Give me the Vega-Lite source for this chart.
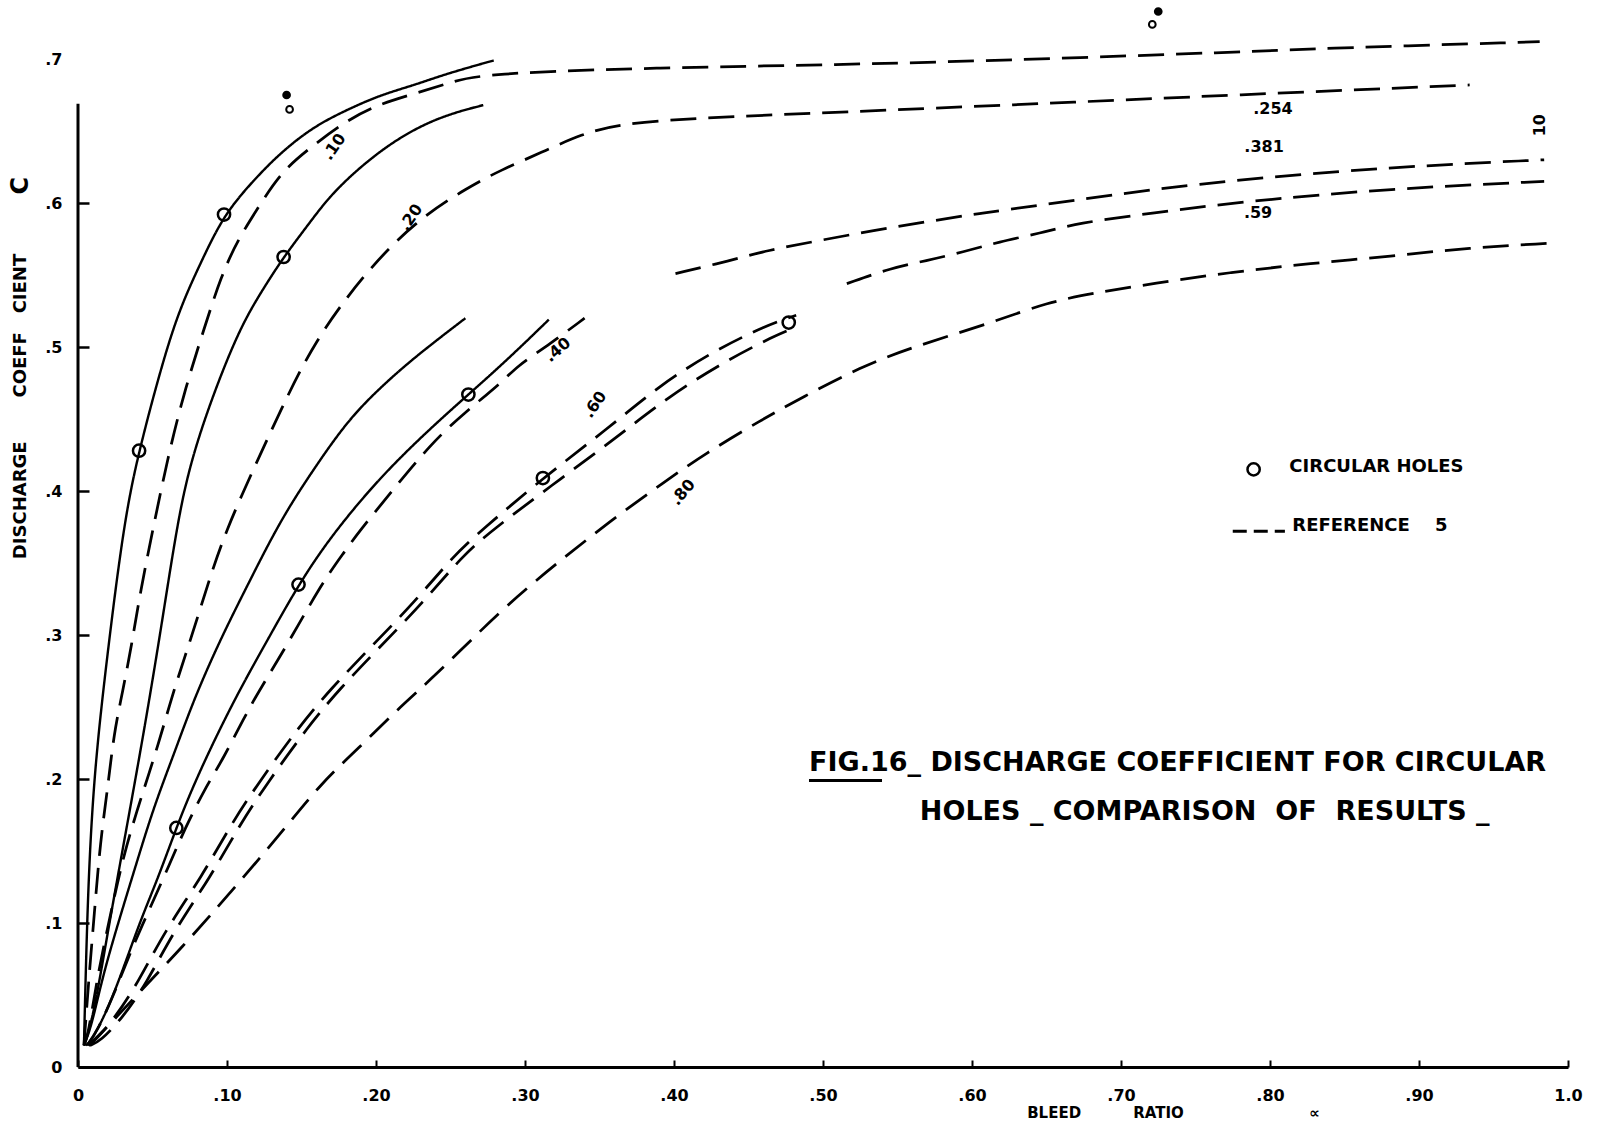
{
  "$schema": "https://vega.github.io/schema/vega-lite/v6.json",
  "width": 1490,
  "height": 1008,
  "autosize": {"type": "none"},
  "padding": {"left": 78, "top": 59, "right": 42, "bottom": 64},
  "background": "white",
  "config": {"view": {"stroke": null}, "font": "DejaVu Sans"},
  "datasets": {
    "curves": [
      {"c":"S1","s":"solid","x":0.004,"y":0.015},{"c":"S1","s":"solid","x":0.005,"y":0.058},{"c":"S1","s":"solid","x":0.007,"y":0.132},{"c":"S1","s":"solid","x":0.011,"y":0.206},{"c":"S1","s":"solid","x":0.019,"y":0.281},{"c":"S1","s":"solid","x":0.031,"y":0.380},{"c":"S1","s":"solid","x":0.041,"y":0.428},{"c":"S1","s":"solid","x":0.054,"y":0.479},{"c":"S1","s":"solid","x":0.067,"y":0.524},{"c":"S1","s":"solid","x":0.083,"y":0.560},{"c":"S1","s":"solid","x":0.098,"y":0.592},{"c":"S1","s":"solid","x":0.118,"y":0.616},{"c":"S1","s":"solid","x":0.136,"y":0.635},{"c":"S1","s":"solid","x":0.158,"y":0.653},{"c":"S1","s":"solid","x":0.181,"y":0.665},{"c":"S1","s":"solid","x":0.203,"y":0.675},{"c":"S1","s":"solid","x":0.226,"y":0.682},{"c":"S1","s":"solid","x":0.248,"y":0.690},{"c":"S1","s":"solid","x":0.279,"y":0.699},

      {"c":"D10","s":"dashed","x":0.004,"y":0.015},{"c":"D10","s":"dashed","x":0.007,"y":0.058},{"c":"D10","s":"dashed","x":0.011,"y":0.107},{"c":"D10","s":"dashed","x":0.015,"y":0.157},{"c":"D10","s":"dashed","x":0.020,"y":0.194},{"c":"D10","s":"dashed","x":0.024,"y":0.231},{"c":"D10","s":"dashed","x":0.030,"y":0.261},{"c":"D10","s":"dashed","x":0.036,"y":0.293},{"c":"D10","s":"dashed","x":0.042,"y":0.331},{"c":"D10","s":"dashed","x":0.050,"y":0.372},{"c":"D10","s":"dashed","x":0.060,"y":0.422},{"c":"D10","s":"dashed","x":0.071,"y":0.468},{"c":"D10","s":"dashed","x":0.085,"y":0.514},{"c":"D10","s":"dashed","x":0.096,"y":0.549},{"c":"D10","s":"dashed","x":0.107,"y":0.574},{"c":"D10","s":"dashed","x":0.121,"y":0.597},{"c":"D10","s":"dashed","x":0.136,"y":0.621},{"c":"D10","s":"dashed","x":0.154,"y":0.637},{"c":"D10","s":"dashed","x":0.181,"y":0.658},{"c":"D10","s":"dashed","x":0.203,"y":0.669},{"c":"D10","s":"dashed","x":0.226,"y":0.676},{"c":"D10","s":"dashed","x":0.248,"y":0.683},{"c":"D10","s":"dashed","x":0.270,"y":0.690},{"c":"D10","s":"dashed","x":0.391,"y":0.694},{"c":"D10","s":"dashed","x":0.510,"y":0.696},{"c":"D10","s":"dashed","x":0.619,"y":0.699},{"c":"D10","s":"dashed","x":0.784,"y":0.705},{"c":"D10","s":"dashed","x":0.824,"y":0.707},{"c":"D10","s":"dashed","x":0.981,"y":0.712},

      {"c":"S2","s":"solid","x":0.004,"y":0.015},{"c":"S2","s":"solid","x":0.010,"y":0.033},{"c":"S2","s":"solid","x":0.020,"y":0.094},{"c":"S2","s":"solid","x":0.031,"y":0.157},{"c":"S2","s":"solid","x":0.044,"y":0.231},{"c":"S2","s":"solid","x":0.056,"y":0.306},{"c":"S2","s":"solid","x":0.067,"y":0.380},{"c":"S2","s":"solid","x":0.076,"y":0.422},{"c":"S2","s":"solid","x":0.091,"y":0.468},{"c":"S2","s":"solid","x":0.109,"y":0.514},{"c":"S2","s":"solid","x":0.124,"y":0.540},{"c":"S2","s":"solid","x":0.138,"y":0.5625},{"c":"S2","s":"solid","x":0.156,"y":0.587},{"c":"S2","s":"solid","x":0.172,"y":0.609},{"c":"S2","s":"solid","x":0.205,"y":0.639},{"c":"S2","s":"solid","x":0.239,"y":0.659},{"c":"S2","s":"solid","x":0.272,"y":0.668},

      {"c":"D20","s":"dashed","x":0.004,"y":0.015},{"c":"D20","s":"dashed","x":0.007,"y":0.023},{"c":"D20","s":"dashed","x":0.013,"y":0.063},{"c":"D20","s":"dashed","x":0.022,"y":0.107},{"c":"D20","s":"dashed","x":0.031,"y":0.149},{"c":"D20","s":"dashed","x":0.042,"y":0.186},{"c":"D20","s":"dashed","x":0.054,"y":0.224},{"c":"D20","s":"dashed","x":0.064,"y":0.261},{"c":"D20","s":"dashed","x":0.076,"y":0.298},{"c":"D20","s":"dashed","x":0.087,"y":0.335},{"c":"D20","s":"dashed","x":0.099,"y":0.372},{"c":"D20","s":"dashed","x":0.119,"y":0.418},{"c":"D20","s":"dashed","x":0.136,"y":0.456},{"c":"D20","s":"dashed","x":0.158,"y":0.503},{"c":"D20","s":"dashed","x":0.192,"y":0.551},{"c":"D20","s":"dashed","x":0.227,"y":0.588},{"c":"D20","s":"dashed","x":0.262,"y":0.611},{"c":"D20","s":"dashed","x":0.284,"y":0.623},{"c":"D20","s":"dashed","x":0.311,"y":0.635},{"c":"D20","s":"dashed","x":0.338,"y":0.648},{"c":"D20","s":"dashed","x":0.364,"y":0.655},{"c":"D20","s":"dashed","x":0.414,"y":0.659},{"c":"D20","s":"dashed","x":0.510,"y":0.663},{"c":"D20","s":"dashed","x":0.646,"y":0.669},{"c":"D20","s":"dashed","x":0.776,"y":0.675},{"c":"D20","s":"dashed","x":0.934,"y":0.682},

      {"c":"S3","s":"solid","x":0.004,"y":0.015},{"c":"S3","s":"solid","x":0.009,"y":0.028},{"c":"S3","s":"solid","x":0.017,"y":0.065},{"c":"S3","s":"solid","x":0.029,"y":0.107},{"c":"S3","s":"solid","x":0.040,"y":0.144},{"c":"S3","s":"solid","x":0.051,"y":0.181},{"c":"S3","s":"solid","x":0.065,"y":0.219},{"c":"S3","s":"solid","x":0.078,"y":0.256},{"c":"S3","s":"solid","x":0.096,"y":0.298},{"c":"S3","s":"solid","x":0.114,"y":0.335},{"c":"S3","s":"solid","x":0.136,"y":0.380},{"c":"S3","s":"solid","x":0.158,"y":0.415},{"c":"S3","s":"solid","x":0.181,"y":0.449},{"c":"S3","s":"solid","x":0.203,"y":0.472},{"c":"S3","s":"solid","x":0.226,"y":0.493},{"c":"S3","s":"solid","x":0.260,"y":0.520},

      {"c":"S4","s":"solid","x":0.005,"y":0.015},{"c":"S4","s":"solid","x":0.009,"y":0.018},{"c":"S4","s":"solid","x":0.020,"y":0.040},{"c":"S4","s":"solid","x":0.031,"y":0.070},{"c":"S4","s":"solid","x":0.042,"y":0.102},{"c":"S4","s":"solid","x":0.054,"y":0.132},{"c":"S4","s":"solid","x":0.066,"y":0.166},{"c":"S4","s":"solid","x":0.076,"y":0.192},{"c":"S4","s":"solid","x":0.091,"y":0.226},{"c":"S4","s":"solid","x":0.109,"y":0.263},{"c":"S4","s":"solid","x":0.128,"y":0.298},{"c":"S4","s":"solid","x":0.148,"y":0.335},{"c":"S4","s":"solid","x":0.170,"y":0.369},{"c":"S4","s":"solid","x":0.203,"y":0.410},{"c":"S4","s":"solid","x":0.237,"y":0.444},{"c":"S4","s":"solid","x":0.262,"y":0.467},{"c":"S4","s":"solid","x":0.287,"y":0.490},{"c":"S4","s":"solid","x":0.316,"y":0.519},

      {"c":"D40a","s":"dashed","x":0.006,"y":0.015},{"c":"D40a","s":"dashed","x":0.013,"y":0.025},{"c":"D40a","s":"dashed","x":0.024,"y":0.050},{"c":"D40a","s":"dashed","x":0.036,"y":0.082},{"c":"D40a","s":"dashed","x":0.049,"y":0.112},{"c":"D40a","s":"dashed","x":0.062,"y":0.142},{"c":"D40a","s":"dashed","x":0.071,"y":0.164},{"c":"D40a","s":"dashed","x":0.087,"y":0.197},{"c":"D40a","s":"dashed","x":0.096,"y":0.211},{"c":"D40a","s":"dashed","x":0.118,"y":0.256},{"c":"D40a","s":"dashed","x":0.136,"y":0.285},{"c":"D40a","s":"dashed","x":0.163,"y":0.335},{"c":"D40a","s":"dashed","x":0.179,"y":0.358},{"c":"D40a","s":"dashed","x":0.188,"y":0.371},{"c":"D40a","s":"dashed","x":0.210,"y":0.399},{"c":"D40a","s":"dashed","x":0.237,"y":0.433},{"c":"D40a","s":"dashed","x":0.259,"y":0.454},{"c":"D40a","s":"dashed","x":0.284,"y":0.475},{"c":"D40a","s":"dashed","x":0.295,"y":0.487},{"c":"D40a","s":"dashed","x":0.314,"y":0.500},{"c":"D40a","s":"dashed","x":0.340,"y":0.520},

      {"c":"D40b","s":"dashed","x":0.401,"y":0.551},{"c":"D40b","s":"dashed","x":0.438,"y":0.560},{"c":"D40b","s":"dashed","x":0.462,"y":0.567},{"c":"D40b","s":"dashed","x":0.498,"y":0.574},{"c":"D40b","s":"dashed","x":0.534,"y":0.581},{"c":"D40b","s":"dashed","x":0.570,"y":0.587},{"c":"D40b","s":"dashed","x":0.606,"y":0.593},{"c":"D40b","s":"dashed","x":0.636,"y":0.597},{"c":"D40b","s":"dashed","x":0.750,"y":0.614},{"c":"D40b","s":"dashed","x":0.881,"y":0.625},{"c":"D40b","s":"dashed","x":0.984,"y":0.630},

      {"c":"D60a","s":"dashed","x":0.007,"y":0.015},{"c":"D60a","s":"dashed","x":0.011,"y":0.018},{"c":"D60a","s":"dashed","x":0.024,"y":0.033},{"c":"D60a","s":"dashed","x":0.040,"y":0.058},{"c":"D60a","s":"dashed","x":0.058,"y":0.094},{"c":"D60a","s":"dashed","x":0.083,"y":0.132},{"c":"D60a","s":"dashed","x":0.103,"y":0.169},{"c":"D60a","s":"dashed","x":0.121,"y":0.197},{"c":"D60a","s":"dashed","x":0.148,"y":0.236},{"c":"D60a","s":"dashed","x":0.170,"y":0.263},{"c":"D60a","s":"dashed","x":0.195,"y":0.290},{"c":"D60a","s":"dashed","x":0.226,"y":0.323},{"c":"D60a","s":"dashed","x":0.252,"y":0.355},{"c":"D60a","s":"dashed","x":0.270,"y":0.372},{"c":"D60a","s":"dashed","x":0.312,"y":0.409},{"c":"D60a","s":"dashed","x":0.354,"y":0.442},{"c":"D60a","s":"dashed","x":0.391,"y":0.474},{"c":"D60a","s":"dashed","x":0.428,"y":0.498},{"c":"D60a","s":"dashed","x":0.462,"y":0.515},{"c":"D60a","s":"dashed","x":0.482,"y":0.522},

      {"c":"D60b","s":"dashed","x":0.008,"y":0.015},{"c":"D60b","s":"dashed","x":0.015,"y":0.018},{"c":"D60b","s":"dashed","x":0.029,"y":0.033},{"c":"D60b","s":"dashed","x":0.046,"y":0.058},{"c":"D60b","s":"dashed","x":0.064,"y":0.094},{"c":"D60b","s":"dashed","x":0.089,"y":0.132},{"c":"D60b","s":"dashed","x":0.109,"y":0.169},{"c":"D60b","s":"dashed","x":0.127,"y":0.197},{"c":"D60b","s":"dashed","x":0.154,"y":0.236},{"c":"D60b","s":"dashed","x":0.176,"y":0.263},{"c":"D60b","s":"dashed","x":0.201,"y":0.290},{"c":"D60b","s":"dashed","x":0.232,"y":0.323},{"c":"D60b","s":"dashed","x":0.258,"y":0.355},{"c":"D60b","s":"dashed","x":0.277,"y":0.372},{"c":"D60b","s":"dashed","x":0.318,"y":0.404},{"c":"D60b","s":"dashed","x":0.360,"y":0.436},{"c":"D60b","s":"dashed","x":0.397,"y":0.466},{"c":"D60b","s":"dashed","x":0.434,"y":0.490},{"c":"D60b","s":"dashed","x":0.468,"y":0.508},{"c":"D60b","s":"dashed","x":0.480,"y":0.513},

      {"c":"D60c","s":"dashed","x":0.516,"y":0.544},{"c":"D60c","s":"dashed","x":0.546,"y":0.555},{"c":"D60c","s":"dashed","x":0.570,"y":0.560},{"c":"D60c","s":"dashed","x":0.594,"y":0.566},{"c":"D60c","s":"dashed","x":0.618,"y":0.573},{"c":"D60c","s":"dashed","x":0.646,"y":0.579},{"c":"D60c","s":"dashed","x":0.670,"y":0.586},{"c":"D60c","s":"dashed","x":0.721,"y":0.593},{"c":"D60c","s":"dashed","x":0.781,"y":0.601},{"c":"D60c","s":"dashed","x":0.881,"y":0.610},{"c":"D60c","s":"dashed","x":0.984,"y":0.615},

      {"c":"D80","s":"dashed","x":0.007,"y":0.015},{"c":"D80","s":"dashed","x":0.020,"y":0.028},{"c":"D80","s":"dashed","x":0.042,"y":0.053},{"c":"D80","s":"dashed","x":0.069,"y":0.082},{"c":"D80","s":"dashed","x":0.103,"y":0.122},{"c":"D80","s":"dashed","x":0.136,"y":0.162},{"c":"D80","s":"dashed","x":0.163,"y":0.197},{"c":"D80","s":"dashed","x":0.188,"y":0.221},{"c":"D80","s":"dashed","x":0.215,"y":0.249},{"c":"D80","s":"dashed","x":0.239,"y":0.271},{"c":"D80","s":"dashed","x":0.270,"y":0.303},{"c":"D80","s":"dashed","x":0.295,"y":0.327},{"c":"D80","s":"dashed","x":0.318,"y":0.347},{"c":"D80","s":"dashed","x":0.357,"y":0.379},{"c":"D80","s":"dashed","x":0.393,"y":0.406},{"c":"D80","s":"dashed","x":0.421,"y":0.426},{"c":"D80","s":"dashed","x":0.458,"y":0.449},{"c":"D80","s":"dashed","x":0.486,"y":0.465},{"c":"D80","s":"dashed","x":0.525,"y":0.486},{"c":"D80","s":"dashed","x":0.560,"y":0.500},{"c":"D80","s":"dashed","x":0.614,"y":0.517},{"c":"D80","s":"dashed","x":0.650,"y":0.531},{"c":"D80","s":"dashed","x":0.685,"y":0.538},{"c":"D80","s":"dashed","x":0.721,"y":0.544},{"c":"D80","s":"dashed","x":0.774,"y":0.552},{"c":"D80","s":"dashed","x":0.827,"y":0.558},{"c":"D80","s":"dashed","x":0.881,"y":0.563},{"c":"D80","s":"dashed","x":0.934,"y":0.569},{"c":"D80","s":"dashed","x":0.987,"y":0.572},

      {"c":"LEG","s":"short","x":0.775,"y":0.372},{"c":"LEG","s":"short","x":0.810,"y":0.372}
    ],
    "holes": [
      {"x":0.041,"y":0.428},{"x":0.098,"y":0.592},{"x":0.138,"y":0.5625},{"x":0.066,"y":0.166},{"x":0.148,"y":0.335},{"x":0.262,"y":0.467},{"x":0.312,"y":0.409},{"x":0.477,"y":0.517},{"x":0.789,"y":0.415}
    ],
    "marks": [
      {"x":0.142,"y":0.665,"f":"open"},{"x":0.140,"y":0.675,"f":"dot"},{"x":0.721,"y":0.724,"f":"open"},{"x":0.725,"y":0.733,"f":"dot"}
    ],
    "labels": [
      {"t":".10","x":0.172,"y":0.639,"a":-55},
      {"t":".20","x":0.2235,"y":0.590,"a":-55},
      {"t":".40","x":0.322,"y":0.498,"a":-40},
      {"t":".60","x":0.347,"y":0.460,"a":-55},
      {"t":".80","x":0.406,"y":0.399,"a":-50},
      {"t":".254","x":0.802,"y":0.665,"a":0},
      {"t":".381","x":0.796,"y":0.639,"a":0},
      {"t":".59","x":0.792,"y":0.593,"a":0},
      {"t":"10","x":0.981,"y":0.654,"a":-90}
    ],
    "titles": [
      {"t":"FIG.16_ DISCHARGE COEFFICIENT FOR CIRCULAR","x":0.4906,"y":0.211},
      {"t":"HOLES _ COMPARISON\u00a0 OF\u00a0 RESULTS _","x":0.565,"y":0.177}
    ],
    "legendText": [
      {"t":"CIRCULAR HOLES","x":0.813,"y":0.417},
      {"t":"REFERENCE\u00a0\u00a0\u00a0\u00a05","x":0.815,"y":0.376}
    ],
    "bigC": [
      {"t":"C","x":-0.038,"y":0.612,"a":-90}
    ]
  },
  "layer": [
    {
      "data": {"name": "curves"},
      "mark": {"type": "line", "color": "black", "strokeCap": "butt", "interpolate": "basis"},
      "encoding": {
        "x": {"field": "x", "type": "quantitative", "scale": {"domain": [0, 1], "nice": false, "zero": false},
          "axis": {
            "values": [0, 0.1, 0.2, 0.3, 0.4, 0.5, 0.6, 0.7, 0.8, 0.9, 1],
            "labelExpr": "datum.value == 0 ? '0' : datum.value > 0.95 ? '1.0' : '.' + format(datum.value*100, 'd')",
            "labelFont": "DejaVu Sans", "labelFontWeight": "bold", "labelFontSize": 16, "labelColor": "black",
            "labelPadding": 27, "labelFlush": false, "labelOverlap": false,
            "ticks": true, "tickSize": -7, "tickColor": "black", "tickWidth": 2,
            "domainColor": "black", "domainWidth": 3, "grid": false,
            "title": "BLEED\u00a0\u00a0\u00a0\u00a0\u00a0\u00a0\u00a0\u00a0\u00a0\u00a0RATIO\u00a0\u00a0\u00a0\u00a0\u00a0\u00a0\u00a0\u00a0\u00a0\u00a0\u00a0\u00a0\u00a0\u00a0\u00a0\u00a0\u00a0\u00a0\u00a0\u00a0\u00a0\u00a0\u00a0\u00a0∝",
            "titleX": 1095, "titleY": 45, "titleAlign": "center", "titleBaseline": "middle",
            "titleFont": "DejaVu Sans", "titleFontSize": 15, "titleFontWeight": "bold", "titleColor": "black"
          }},
        "y": {"field": "y", "type": "quantitative", "scale": {"domain": [0, 0.7], "nice": false, "zero": false},
          "axis": {
            "values": [0, 0.1, 0.2, 0.3, 0.4, 0.5, 0.6, 0.7],
            "labelExpr": "datum.value == 0 ? '0' : '.' + format(datum.value*10, 'd')",
            "labelFont": "DejaVu Sans", "labelFontWeight": "bold", "labelFontSize": 16, "labelColor": "black",
            "labelPadding": 27, "labelFlush": false, "labelOverlap": false,
            "domain": false, "ticks": true, "tickSize": -11, "tickColor": "black", "tickWidth": 2.5,
            "tickOpacity": {"condition": {"test": "datum.value > 0.65", "value": 0}, "value": 1},
            "grid": false,
            "title": "DISCHARGE\u00a0\u00a0\u00a0\u00a0\u00a0\u00a0\u00a0COEFF\u00a0\u00a0\u00a0CIENT",
            "titleX": -58, "titleY": 347, "titleAngle": 270, "titleAlign": "center", "titleBaseline": "middle",
            "titleFont": "DejaVu Sans", "titleFontSize": 18, "titleFontWeight": "bold", "titleColor": "black"
          }},
        "detail": {"field": "c", "type": "nominal"},
        "strokeDash": {"field": "s", "type": "nominal", "scale": {"domain": ["solid", "dashed", "short"], "range": [[1, 0], [26, 12], [14, 7]]}, "legend": null},
        "strokeWidth": {"field": "s", "type": "nominal", "scale": {"domain": ["solid", "dashed", "short"], "range": [2.4, 3.1, 3.1]}, "legend": null}
      }
    },
    {
      "data": {"values": [{}]},
      "mark": {"type": "rule", "strokeWidth": 3, "color": "black"},
      "encoding": {"x": {"datum": 0}, "y": {"datum": 0}, "y2": {"datum": 0.669}}
    },
    {
      "data": {"values": [{}]},
      "mark": {"type": "rule", "strokeWidth": 3, "color": "black"},
      "encoding": {"x": {"datum": 0.4906}, "x2": {"datum": 0.5396}, "y": {"datum": 0.199}}
    },
    {
      "data": {"name": "holes"},
      "mark": {"type": "point", "shape": "circle", "filled": false, "stroke": "black", "strokeWidth": 2.5, "size": 150, "opacity": 1},
      "encoding": {"x": {"field": "x", "type": "quantitative"}, "y": {"field": "y", "type": "quantitative"}}
    },
    {
      "data": {"name": "marks"},
      "mark": {"type": "point", "shape": "circle", "filled": true, "stroke": "black", "strokeWidth": 2, "size": 45, "opacity": 1},
      "encoding": {"x": {"field": "x", "type": "quantitative"}, "y": {"field": "y", "type": "quantitative"},
        "fill": {"field": "f", "type": "nominal", "scale": {"domain": ["open", "dot"], "range": ["white", "black"]}, "legend": null}}
    },
    {
      "data": {"name": "labels"},
      "mark": {"type": "text", "font": "DejaVu Sans", "fontWeight": "bold", "fontSize": 16, "color": "black", "align": "center", "baseline": "middle"},
      "encoding": {"x": {"field": "x", "type": "quantitative"}, "y": {"field": "y", "type": "quantitative"},
        "text": {"field": "t"}, "angle": {"field": "a", "type": "quantitative", "scale": null}}
    },
    {
      "data": {"name": "bigC"},
      "mark": {"type": "text", "font": "DejaVu Sans", "fontWeight": "bold", "fontSize": 24, "color": "black", "align": "center", "baseline": "middle"},
      "encoding": {"x": {"field": "x", "type": "quantitative"}, "y": {"field": "y", "type": "quantitative"},
        "text": {"field": "t"}, "angle": {"field": "a", "type": "quantitative", "scale": null}}
    },
    {
      "data": {"name": "titles"},
      "mark": {"type": "text", "font": "DejaVu Sans", "fontWeight": "bold", "fontSize": 27, "color": "black", "align": "left", "baseline": "middle"},
      "encoding": {"x": {"field": "x", "type": "quantitative"}, "y": {"field": "y", "type": "quantitative"}, "text": {"field": "t"}}
    },
    {
      "data": {"name": "legendText"},
      "mark": {"type": "text", "font": "DejaVu Sans", "fontWeight": "bold", "fontSize": 18, "color": "black", "align": "left", "baseline": "middle"},
      "encoding": {"x": {"field": "x", "type": "quantitative"}, "y": {"field": "y", "type": "quantitative"}, "text": {"field": "t"}}
    }
  ]
}
